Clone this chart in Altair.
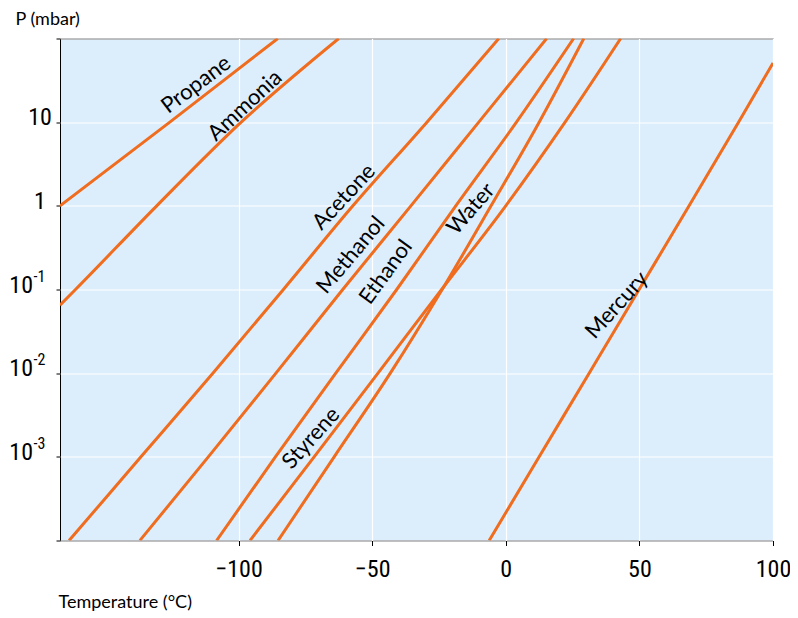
import altair as alt
import pandas as pd

# ---- data (temperature in °C, pressure in mbar) ----
substances = ["Propane", "Ammonia", "Acetone", "Methanol", "Ethanol", "Styrene", "Water", "Mercury"]

propane_T = [-166.8, -125.7, -85.3]
propane_P = [1, 10, 100]

ammonia_T = [-166.8, -161.0, -130.6, -99.0, -62.5]
ammonia_P = [0.065, 0.1, 1, 10, 100]

acetone_T = [-163.4, -136.5, -109.6, -83.2, -57.2, -29.5, -2.6]
acetone_P = [1e-4, 1e-3, 1e-2, 0.1, 1, 10, 100]

methanol_T = [-136.9, -111.3, -86.0, -61.0, -35.5, -10.1, 15.3]
methanol_P = [1e-4, 1e-3, 1e-2, 0.1, 1, 10, 100]

ethanol_T = [-108.2, -86.2, -63.6, -40.8, -18.7, 4.0, 25.4]
ethanol_P = [1e-4, 1e-3, 1e-2, 0.1, 1, 10, 100]

styrene_T = [-95.7, -71.7, -47.8, -24.0, 0.0, 22.2, 43.0]
styrene_P = [1e-4, 1e-3, 1e-2, 0.1, 1, 10, 100]

water_T = [-85.2, -64.2, -43.2, -23.8, -5.5, 12.5, 29.2]
water_P = [1e-4, 1e-3, 1e-2, 0.1, 1, 10, 100]

mercury_T = [-6.2, 12.5, 31.2, 49.9, 68.6, 87.1, 100.0]
mercury_P = [1e-4, 1e-3, 1e-2, 0.1, 1, 10, 51]

series_T = [propane_T, ammonia_T, acetone_T, methanol_T, ethanol_T, styrene_T, water_T, mercury_T]
series_P = [propane_P, ammonia_P, acetone_P, methanol_P, ethanol_P, styrene_P, water_P, mercury_P]

# curve labels (anchor in data coordinates) and their rotation
label_T = [-115.9, -97.6, -60.6, -58.0, -44.9, -72.9, -13.1, 41.5]
label_P = [28.1, 15.8, 1.28, 0.259, 0.162, 1.67e-3, 0.92, 0.0652]
label_angle = [323, 317, 313, 310, 306, 312, 311, 312]

# tick values / labels
x_ticks = [-100, -50, 0, 50, 100]
y_ticks = [1e-4, 1e-3, 1e-2, 1e-1, 1, 10, 100]
plain_label_P = [1, 10]
plain_label_text = ["1", "10"]
exp_label_P = [1e-3, 1e-2, 1e-1]
exp_label_base = ["10", "10", "10"]
exp_label_exp = ["-3", "-2", "-1"]

rows = []
for name, ts, ps in zip(substances, series_T, series_P):
    for t, p in zip(ts, ps):
        rows.append({"substance": name, "T": t, "P": p})
curves = pd.DataFrame(rows)

ORANGE = "#F06C1E"
NUM_FONT = "Liberation Sans Narrow, Roboto Condensed, Roboto, sans-serif"
TXT_FONT = "Lato, Open Sans, sans-serif"

xscale = alt.Scale(domain=[-166.8, 100], nice=False, zero=False)
yscale = alt.Scale(type="log", domain=[1e-4, 100], nice=False)

xaxis = alt.Axis(values=x_ticks, title="Temperature (°C)", grid=True,
                 gridColor="white", gridWidth=1.2, domain=False,
                 tickColor="black", tickSize=5, labelFontSize=24,
                 labelFont=NUM_FONT, labelColor="black", labelPadding=12,
                 labelFlush=False, titleFont=TXT_FONT, titleFontSize=18,
                 titleFontWeight="normal", titleColor="black",
                 titleAnchor="start", titleAlign="left", titleX=-2,
                 titleY=67, titleBaseline="alphabetic")
yaxis = alt.Axis(values=y_ticks, labels=False, title="P (mbar)", grid=True,
                 gridColor="white", gridWidth=1.2, domain=False,
                 tickColor="black", tickSize=4, titleFont=TXT_FONT,
                 titleFontSize=18, titleFontWeight="normal",
                 titleColor="black", titleAngle=0, titleAlign="left",
                 titleAnchor="start", titleX=-45, titleY=-14,
                 titleBaseline="alphabetic")

X = alt.X("T:Q", scale=xscale, axis=xaxis)
Y = alt.Y("P:Q", scale=yscale, axis=yaxis)

lines = alt.Chart(curves).mark_line(
    color=ORANGE, strokeWidth=3, interpolate="monotone", clip=True
).encode(x=X, y=Y, detail="substance:N")

plain_df = pd.DataFrame({"P": plain_label_P, "text": plain_label_text})
exp_df = pd.DataFrame({"P": exp_label_P, "base": exp_label_base, "exp": exp_label_exp})

plain_labels = alt.Chart(plain_df).mark_text(
    align="center", baseline="alphabetic", font=NUM_FONT, fontSize=24, dy=3, color="black"
).encode(x=alt.value(-20), y=Y, text="text:N")

exp_base = alt.Chart(exp_df).mark_text(
    align="right", baseline="alphabetic", font=NUM_FONT, fontSize=24, dy=3, color="black"
).encode(x=alt.value(-27), y=Y, text="base:N")

exp_sup = alt.Chart(exp_df).mark_text(
    align="left", baseline="alphabetic", font=NUM_FONT, fontSize=16, dy=-8, color="black"
).encode(x=alt.value(-26.5), y=Y, text="exp:N")

layers = [lines, plain_labels, exp_base, exp_sup]
for name, t, p, ang in zip(substances, label_T, label_P, label_angle):
    ldf = pd.DataFrame({"T": [t], "P": [p], "name": [name]})
    layers.append(
        alt.Chart(ldf).mark_text(
            angle=ang, align="center", baseline="middle", font=TXT_FONT,
            fontSize=22, color="black"
        ).encode(x=X, y=Y, text="name:N")
    )

chart = alt.layer(*layers).properties(
    width=713, height=502,
    background="white",
    autosize=alt.AutoSizeParams(type="none"),
    padding={"left": 52, "top": 30.5, "right": 17, "bottom": 72},
).configure_view(
    fill="#DCEEFB", stroke="black", strokeWidth=1
)

chart.save("out.html", embed_options={"renderer": "svg", "actions": False})
